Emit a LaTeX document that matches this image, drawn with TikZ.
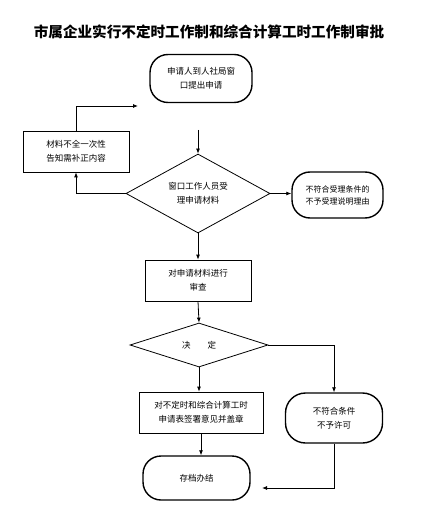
\documentclass[tikz,border=0pt]{standalone}
\usepackage{fontspec}
\newfontfamily\cjk{Noto Sans CJK SC}
\usetikzlibrary{shapes.geometric,arrows.meta}

\begin{document}
\begin{tikzpicture}[x=1pt,y=-1pt,
    wenzi/.style={font=\cjk\fontsize{8.5}{14}\selectfont},
    juxing/.style={wenzi, draw, line width=0.8pt, inner sep=0pt, align=center},
    yuanjiao/.style={wenzi, draw, line width=1.4pt, rounded corners=18pt, inner sep=0pt, align=center},
    lingxing/.style={wenzi, draw, diamond, aspect=2, line width=0.8pt, inner sep=0pt, align=center},
    jiantou/.style={-{Latex[length=5pt,width=4pt]}, line width=0.8pt}]
    \useasboundingbox (0,0) rectangle (428,518);

    % 标题
    \node[font=\cjk\bfseries\fontsize{14.6}{16}\selectfont] (biaoti) at (209,32) {市属企业实行不定时工作制和综合计算工时工作制审批};

    % 申请 (开始)
    \node[yuanjiao, minimum width=102pt, minimum height=48pt] (shenqing) at (201,78.5) {申请人到人社局窗\\口提出申请};

    % 受理
    \node[lingxing, minimum width=144pt, minimum height=79pt] (shouli) at (198,193.5) {窗口工作人员受\\理申请材料};
    \node[juxing, minimum width=106pt, minimum height=41pt] (buquan) at (76,151.5) {材料不全一次性\\告知需补正内容};
    \node[yuanjiao, minimum width=91pt, minimum height=46pt, font=\cjk\fontsize{8}{12}\selectfont] (bushouli) at (337.5,195) {不符合受理条件的\\不予受理说明理由};

    % 审查
    \node[juxing, minimum width=106pt, minimum height=41pt] (shencha) at (198,280.5) {对申请材料进行\\审查};

    % 决定
    \node[lingxing, minimum width=138pt, minimum height=44pt] (jueding) at (199,345) {决\hspace{2em}定};
    \node[juxing, minimum width=124pt, minimum height=41pt] (qianshu) at (201,412.5) {对不定时和综合计算工时\\申请表签署意见并盖章};
    \node[yuanjiao, minimum width=97pt, minimum height=50pt, rounded corners=20pt] (buxu) at (334,418) {不符合条件\\不予许可};

    % 办结
    \node[yuanjiao, minimum width=107pt, minimum height=44pt] (banjie) at (196.5,478) {存档办结};

    % 连线
    \coordinate (ru) at (198,130);
    \coordinate (fanhui) at (138,106);
    \coordinate (guidang) at (262,488);
    \draw[jiantou] (ru) -- (shouli.north);
    \draw[jiantou] (shouli.west) -| (buquan.south);
    \draw[jiantou] (buquan.north) |- (fanhui);
    \draw[jiantou] (shouli.east) -- (shouli.east -| bushouli.west);
    \draw[jiantou] (shouli.south) -- (shencha.north);
    \draw[jiantou] (shencha.south) -- (jueding.north);
    \draw[jiantou] (jueding.east) -| (buxu.north);
    \draw[jiantou] (jueding.south) -- (jueding.south |- qianshu.north);
    \draw[jiantou] (qianshu.south) -- (qianshu.south |- banjie.north);
    \draw[jiantou] (buxu.south) |- (guidang);

\end{tikzpicture}
\end{document}
